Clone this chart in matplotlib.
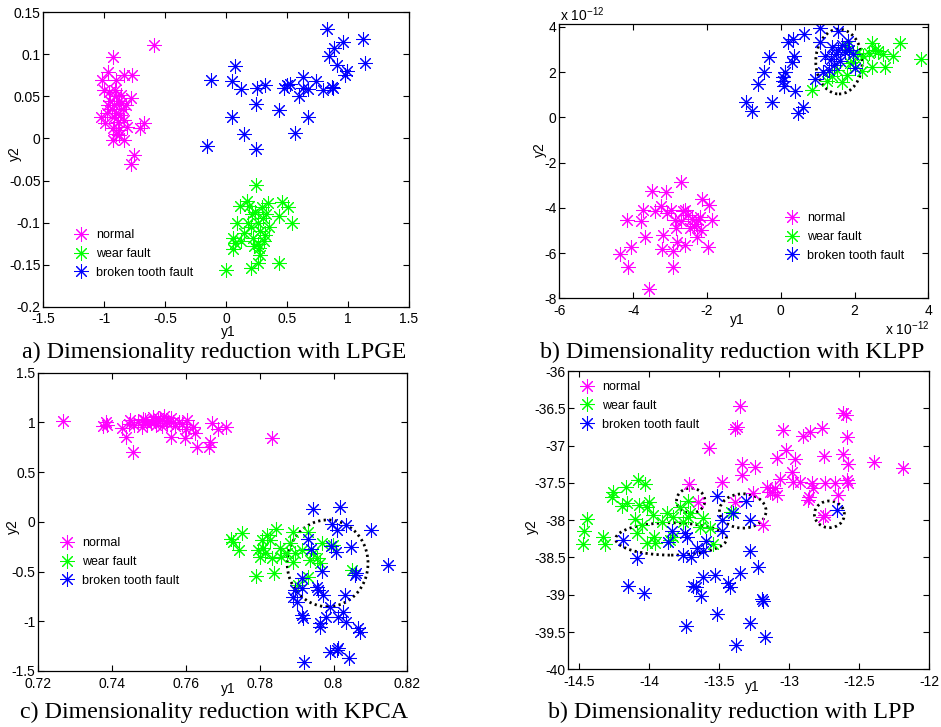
import matplotlib
matplotlib.use("Agg")
import matplotlib.pyplot as plt
from matplotlib.patches import Ellipse
from matplotlib.ticker import FixedLocator, FuncFormatter
import numpy as np

plt.rcParams['font.family'] = ['Liberation Sans', 'DejaVu Sans']
plt.rcParams['axes.unicode_minus'] = False
plt.rcParams['mathtext.fontset'] = 'custom'
plt.rcParams['mathtext.rm'] = 'Liberation Sans'

labels = ['normal', 'wear fault', 'broken tooth fault']
colors = ['#ff00ff', '#00ff00', '#0000ff']

# ---- a) LPGE ----
lpge_normal_x = [-0.589, -0.93, -0.97, -1.02, -0.90, -0.84, -0.77, -1.0, -0.78, -0.82, -0.67, -0.71,
                 -0.76, -0.78, -0.93, -0.84, -0.88, -1.03, -0.99, -0.81,
                 -0.90, -0.88, -0.92, -0.86, -0.94, -0.90, -0.87, -0.95, -0.89, -0.92, -0.85, -0.96,
                 -0.91, -0.88, -0.93, -0.86, -0.98, -0.84, -0.90, -0.97]
lpge_normal_y = [0.111, 0.097, 0.079, 0.070, 0.070, 0.076, 0.075, 0.058, 0.048, 0.040, 0.018, 0.013,
                 -0.020, -0.030, -0.002, -0.002, 0.004, 0.026, 0.018, 0.014,
                 0.050, 0.045, 0.040, 0.052, 0.035, 0.030, 0.028, 0.045, 0.020, 0.025, 0.035, 0.055,
                 0.058, 0.010, 0.012, 0.042, 0.030, 0.022, 0.005, 0.040]
lpge_wear_x = [0.245, 0.0, 0.20, 0.263, 0.43, 0.06, 0.074, 0.455, 0.51, 0.543, 0.436, 0.173, 0.113,
               0.346, 0.085, 0.06,
               0.20, 0.28, 0.30, 0.22, 0.26, 0.32, 0.18, 0.24, 0.29, 0.35, 0.27, 0.15, 0.31, 0.21,
               0.26, 0.33, 0.23, 0.28, 0.12, 0.19]
lpge_wear_y = [-0.055, -0.156, -0.154, -0.148, -0.148, -0.131, -0.124, -0.075, -0.082, -0.101, -0.092,
               -0.074, -0.080, -0.077, -0.100, -0.118,
               -0.105, -0.110, -0.095, -0.118, -0.125, -0.115, -0.100, -0.088, -0.082, -0.105, -0.130,
               -0.112, -0.122, -0.090, -0.100, -0.090, -0.128, -0.138, -0.122, -0.080]
lpge_broken_x = [0.824, 1.125, 0.961, 0.887, 1.139, 0.846, 0.906, 0.988, 0.975, 0.073, -0.127, 0.050,
                 0.119, 0.25, 0.318, 0.474, 0.524, 0.628, 0.597, 0.674, 0.737, 0.797, 0.865, 0.88,
                 0.628, 0.248, 0.431, 0.050, 0.671, 0.146, 0.565, -0.160, 0.248, 0.50]
lpge_broken_y = [0.130, 0.118, 0.115, 0.108, 0.090, 0.098, 0.087, 0.080, 0.076, 0.086, 0.070, 0.068,
                 0.059, 0.060, 0.064, 0.060, 0.065, 0.073, 0.050, 0.059, 0.068, 0.058, 0.061, 0.060,
                 0.060, 0.041, 0.034, 0.026, 0.026, 0.005, 0.006, -0.009, -0.012, 0.063]

# ---- b) KLPP (x 1e-12) ----
klpp_normal_x = [-2.71, -3.50, -3.11, -3.74, -3.24, -3.41, -4.17, -3.79, -3.68, -3.20, -4.35, -4.07,
                 -4.13, -2.91, -3.56, -1.98, -2.14, -1.93, -1.85, -3.23, -2.91, -2.59, -2.82, -2.28,
                 -2.5, -2.4, -2.3, -2.2, -2.35, -2.45, -2.25, -2.6, -2.15, -2.7,
                 -2.86, -2.84, -3.09, -2.64, -2.96]
klpp_normal_y = [-2.86, -3.27, -3.31, -4.08, -3.90, -4.15, -4.52, -4.59, -5.29, -5.21, -6.02, -5.73,
                 -6.63, -6.63, -7.61, -5.73, -3.59, -3.86, -4.55, -5.82, -5.92, -5.66, -5.52, -5.29,
                 -4.3, -4.5, -4.7, -4.4, -4.8, -4.9, -4.55, -4.1, -5.0, -4.6,
                 -4.52, -4.89, -4.23, -4.15, -4.11]
klpp_wear_x = [3.79, 3.23, 2.47, 2.83, 2.47, 0.84, 2.78, 2.56, 2.38, 2.65, 2.20, 1.65, 1.25, 1.38,
               1.79, 1.88, 2.06, 2.24, 1.52, 1.79, 1.97, 3.05]
klpp_wear_y = [2.58, 3.31, 3.31, 2.25, 2.25, 1.19, 2.81, 2.99, 2.84, 2.92, 2.03, 1.55, 1.59, 1.81,
               1.89, 2.40, 2.84, 2.70, 2.11, 3.14, 2.47, 2.70]
klpp_broken_x = [1.07, 1.56, 0.64, 0.21, 0.33, 1.07, 1.82, -0.32, 0.36, 0.30, -0.45, 0.12, 0.07, 0.07,
                 0.10, -0.61, 0.39, 0.93, -0.94, -0.79, -0.24, 0.60, 0.48,
                 1.2, 1.4, 1.55, 1.6, 1.3, 1.45, 1.75, 1.95, 2.0, 1.5, 1.65, 1.35, 1.85, 1.15]
klpp_broken_y = [3.95, 3.83, 3.68, 3.33, 3.48, 3.33, 3.40, 2.65, 2.70, 2.47, 2.0, 1.99, 1.78, 1.59,
                 1.40, 1.49, 1.18, 1.69, 0.68, 0.29, 0.66, 0.46, 0.19,
                 2.7, 3.1, 3.0, 2.5, 2.1, 2.3, 2.9, 2.8, 2.2, 2.8, 3.2, 2.6, 3.0, 2.0]

# ---- c) KPCA ----
kpca_normal_x = [0.7268, 0.7374, 0.7383, 0.7387, 0.7426, 0.7448, 0.7439, 0.7457, 0.7631, 0.7663,
                 0.7665, 0.7672, 0.7688, 0.7709, 0.7834, 0.7559, 0.7597, 0.7602, 0.7620, 0.7625,
                 0.7470, 0.7485, 0.7495, 0.7510, 0.7520, 0.7530, 0.7540, 0.7550, 0.7560, 0.7570,
                 0.7545, 0.7505, 0.7480, 0.7525, 0.7565, 0.7490, 0.7535, 0.7515, 0.7460, 0.7580,
                 0.7445, 0.7600, 0.7590]
kpca_normal_y = [1.014, 0.964, 1.007, 0.97, 0.947, 1.024, 0.850, 0.699, 0.749, 0.756,
                 0.806, 0.997, 0.930, 0.957, 0.840, 0.850, 0.840, 1.024, 0.957, 0.89,
                 1.00, 1.03, 0.98, 1.05, 0.97, 1.02, 1.06, 0.99, 1.04, 0.96,
                 1.01, 0.99, 0.95, 1.04, 1.00, 1.02, 0.96, 1.01, 0.97, 1.00,
                 0.98, 0.93, 0.98]
kpca_wear_x = [0.7722, 0.7728, 0.7753, 0.7743, 0.7790, 0.7839, 0.7844, 0.7805, 0.7810, 0.7814,
               0.7828, 0.7832, 0.7855, 0.7873, 0.7891, 0.7896, 0.7891, 0.7914, 0.7932, 0.7936,
               0.7954, 0.7968, 0.7963, 0.7999, 0.8049, 0.7932, 0.7903, 0.7796, 0.7819, 0.7801,
               0.7859, 0.7882, 0.7945]
kpca_wear_y = [-0.173, -0.20, -0.109, -0.283, -0.541, -0.518, -0.075, -0.183, -0.267, -0.317,
               -0.183, -0.367, -0.267, -0.317, -0.10, -0.317, -0.40, -0.283, -0.10, -0.384,
               -0.367, -0.216, -0.417, -0.233, -0.485, -0.558, -0.635, -0.283, -0.133, -0.35,
               -0.35, -0.216, -0.317]
kpca_broken_x = [0.7945, 0.8018, 0.8102, 0.8147, 0.7995, 0.8009, 0.8035, 0.7994, 0.8007, 0.8047,
                 0.7932, 0.7938, 0.7968, 0.8058, 0.8062, 0.7914, 0.7896, 0.7914, 0.7954, 0.7959,
                 0.7972, 0.7891, 0.7900, 0.7914, 0.7918, 0.7990, 0.8031, 0.7981, 0.8013, 0.8026,
                 0.8035, 0.7963, 0.7963, 0.8067, 0.8071, 0.7990, 0.8013, 0.8009, 0.8043, 0.7920]
kpca_broken_y = [0.126, 0.153, -0.082, -0.434, -0.025, -0.082, -0.032, -0.24, -0.30, -0.25,
                 -0.176, -0.277, -0.495, -0.535, -0.518, -0.561, -0.686, -0.669, -0.652, -0.686,
                 -0.736, -0.753, -0.803, -0.937, -0.971, -0.854, -0.736, -0.954, -0.954, -0.904,
                 -1.004, -1.021, -1.061, -1.071, -1.105, -1.306, -1.272, -1.289, -1.373, -1.407]

# ---- d) LPP ----
lpp_normal_x = [-13.352, -13.376, -13.388, -13.574, -12.614, -12.595, -12.586, -12.395, -12.186,
                -13.043, -12.9, -12.852, -12.769, -12.752, -12.614, -12.579, -13.024, -13.086,
                -12.960, -12.983, -13.245, -13.340, -13.340, -13.479, -13.717, -13.655, -13.388,
                -13.260, -13.186, -13.162, -13.126, -13.090, -13.067, -12.971, -12.924, -12.840,
                -12.745, -12.674, -12.590, -12.579, -12.857, -12.864, -12.829, -12.65, -12.745,
                -12.757, -13.14, -13.105]
lpp_normal_y = [-36.469, -36.746, -36.782, -37.037, -36.568, -36.59, -36.880, -37.225, -37.296,
                -36.791, -36.867, -36.822, -36.769, -37.135, -37.117, -37.251, -37.059, -37.171,
                -37.180, -37.359, -37.283, -37.251, -37.394, -37.484, -37.515, -37.761, -37.761,
                -37.631, -38.065, -37.551, -37.618, -37.663, -37.453, -37.484, -37.484, -37.506,
                -37.497, -37.497, -37.461, -37.497, -37.685, -37.730, -37.573, -37.663, -37.931,
                -37.953, -37.618, -37.573]
lpp_wear_x = [-14.083, -14.031, -14.167, -14.262, -14.269, -14.193, -14.162, -14.448, -14.471,
              -14.476, -14.329, -14.317, -14.076, -14.021, -14.005, -14.100, -13.974, -14.052,
              -14.088, -14.017, -13.969, -13.957, -13.876, -13.829, -13.781, -13.721, -13.721,
              -13.614, -13.638, -13.567, -13.829, -13.543, -13.414, -13.757, -13.710, -13.852,
              -13.912]
lpp_wear_y = [-37.461, -37.515, -37.560, -37.627, -37.685, -37.806, -37.774, -37.989, -38.145,
              -38.320, -38.221, -38.320, -37.797, -37.819, -37.752, -37.989, -37.931, -38.065,
              -38.177, -38.311, -38.221, -38.311, -37.909, -37.953, -37.819, -37.739, -37.953,
              -37.975, -38.087, -38.11, -38.221, -38.320, -37.886, -38.020, -37.909, -38.266,
              -38.020]
lpp_broken_x = [-13.519, -13.310, -13.400, -13.281, -12.662, -13.483, -13.483, -13.840, -13.745,
                -13.733, -13.864, -13.595, -13.660, -13.757, -13.700, -13.617, -14.190, -14.090,
                -13.281, -13.221, -13.352, -13.617, -13.533, -13.664, -13.688, -13.629, -13.424,
                -13.436, -14.155, -14.036, -13.198, -13.186, -13.519, -13.740, -13.281, -13.174,
                -13.383]
lpp_broken_y = [-37.676, -37.743, -37.908, -37.998, -37.864, -37.998, -38.141, -38.141, -38.177,
                -38.230, -38.297, -38.279, -38.378, -38.467, -38.498, -38.409, -38.266, -38.512,
                -38.409, -38.623, -38.704, -38.758, -38.735, -38.892, -38.883, -39.017, -38.892,
                -38.847, -38.883, -38.972, -39.061, -39.079, -39.258, -39.419, -39.383, -39.562,
                -39.674]

captions = ['a) Dimensionality reduction with LPGE', 'b) Dimensionality reduction with KLPP',
            'c) Dimensionality reduction with KPCA', 'b) Dimensionality reduction with LPP']


def fmt(v, pos):
    return '%g' % round(v, 6)


def draw(ax, data, xlim, ylim, xticks, yticks):
    handles = []
    for (xs, ys), c, lab in zip(data, colors, labels):
        h, = ax.plot(xs, ys, linestyle='none', marker=(8, 2, 0), markersize=10.5,
                     markeredgewidth=0.75, color=c, label=lab)
        handles.append(h)
    ax.set_xlim(xlim)
    ax.set_ylim(ylim)
    ax.xaxis.set_major_locator(FixedLocator(xticks))
    ax.yaxis.set_major_locator(FixedLocator(yticks))
    ax.xaxis.set_major_formatter(FuncFormatter(fmt))
    ax.yaxis.set_major_formatter(FuncFormatter(fmt))
    ax.tick_params(direction='in', top=True, right=True, length=4, width=0.8,
                   labelsize=10, pad=2)
    ax.tick_params(axis='x', pad=4)
    for s in ax.spines.values():
        s.set_linewidth(0.9)
    return handles


fig = plt.figure(figsize=(9.41, 7.27), dpi=100)
W, H = 941.0, 727.0


def add_axes(l, t, r, b):
    return fig.add_axes([l / W, 1 - b / H, (r - l) / W, (b - t) / H])


ax_a = add_axes(43.3, 12.3, 409, 306.7)
ax_b = add_axes(559.3, 24, 928.3, 298.3)
ax_c = add_axes(38.3, 372.7, 407.3, 671)
ax_d = add_axes(568.3, 371, 929.3, 669.3)

h_a = draw(ax_a, [(lpge_normal_x, lpge_normal_y), (lpge_wear_x, lpge_wear_y),
                  (lpge_broken_x, lpge_broken_y)],
           (-1.5, 1.5), (-0.2, 0.15), [-1.5, -1, -0.5, 0, 0.5, 1, 1.5],
           [-0.2, -0.15, -0.1, -0.05, 0, 0.05, 0.1, 0.15])
h_b = draw(ax_b, [(klpp_normal_x, klpp_normal_y), (klpp_wear_x, klpp_wear_y),
                  (klpp_broken_x, klpp_broken_y)],
           (-6, 4), (-8, 4.13), [-6, -4, -2, 0, 2, 4], [-8, -6, -4, -2, 0, 2, 4])
h_c = draw(ax_c, [(kpca_normal_x, kpca_normal_y), (kpca_wear_x, kpca_wear_y),
                  (kpca_broken_x, kpca_broken_y)],
           (0.72, 0.82), (-1.5, 1.5), [0.72, 0.74, 0.76, 0.78, 0.8, 0.82],
           [-1.5, -1, -0.5, 0, 0.5, 1, 1.5])
h_d = draw(ax_d, [(lpp_normal_x, lpp_normal_y), (lpp_wear_x, lpp_wear_y),
                  (lpp_broken_x, lpp_broken_y)],
           (-14.58, -12), (-40, -36), [-14.5, -14, -13.5, -13, -12.5, -12],
           [-40, -39.5, -39, -38.5, -38, -37.5, -37, -36.5, -36])

# dotted circles marking overlap regions
dot = dict(fill=False, edgecolor='black', linewidth=2.0, linestyle=(0, (0.8, 1.2)))
ax_b.add_patch(Ellipse((1.58, 2.47), 1.26, 2.87, **dot))
ax_c.add_patch(Ellipse((0.7984, -0.417), 0.0219, 0.872, **dot))
ax_d.add_patch(Ellipse((-13.845, -38.252), 0.793, 0.434, **dot))
ax_d.add_patch(Ellipse((-13.705, -37.738), 0.202, 0.335, **dot))
ax_d.add_patch(Ellipse((-13.333, -37.877), 0.333, 0.46, **dot))
ax_d.add_patch(Ellipse((-12.714, -37.922), 0.214, 0.358, **dot))

# axis labels placed where the original has them
for ax, (xl, yl) in zip([ax_a, ax_b, ax_c, ax_d],
                        [((228, 332), (15, 154)), ((737, 320), (540, 150)),
                         ((228, 689), (13, 527)), ((752, 687), (532, 527))]):
    fig.text(xl[0] / W, 1 - xl[1] / H, 'y1', ha='center', va='center', fontsize=10)
    fig.text(yl[0] / W, 1 - yl[1] / H, 'y2', ha='center', va='center', fontsize=10,
             rotation=90)

# legends, no frame
for ax, hs, (lx, ly) in zip([ax_a, ax_b, ax_c, ax_d], [h_a, h_b, h_c, h_d],
                            [(75, 229), (786, 212), (61, 537), (581, 381)]):
    ax.legend(handles=hs, loc='upper left', bbox_to_anchor=(lx / W, 1 - ly / H),
              bbox_transform=fig.transFigure, frameon=False, fontsize=9, numpoints=1,
              handlelength=1.0, handletextpad=0.7, labelspacing=0.55, borderpad=0,
              borderaxespad=0)

# exponent labels of the KLPP panel
fig.text(560 / W, 1 - 15 / H, r'x 10$^{-12}$', ha='left', va='center', fontsize=10)
fig.text(929 / W, 1 - 329 / H, r'x 10$^{-12}$', ha='right', va='center', fontsize=10)

# captions
serif = ['Liberation Serif', 'DejaVu Serif']
fig.text(214 / W, 1 - 352 / H, captions[0], ha='center', va='center', fontsize=17.3, family=serif)
fig.text(732 / W, 1 - 352 / H, captions[1], ha='center', va='center', fontsize=17.3, family=serif)
fig.text(214 / W, 1 - 712 / H, captions[2], ha='center', va='center', fontsize=17.3, family=serif)
fig.text(732 / W, 1 - 712 / H, captions[3], ha='center', va='center', fontsize=17.3, family=serif)

fig.savefig('out.png', dpi=100)
